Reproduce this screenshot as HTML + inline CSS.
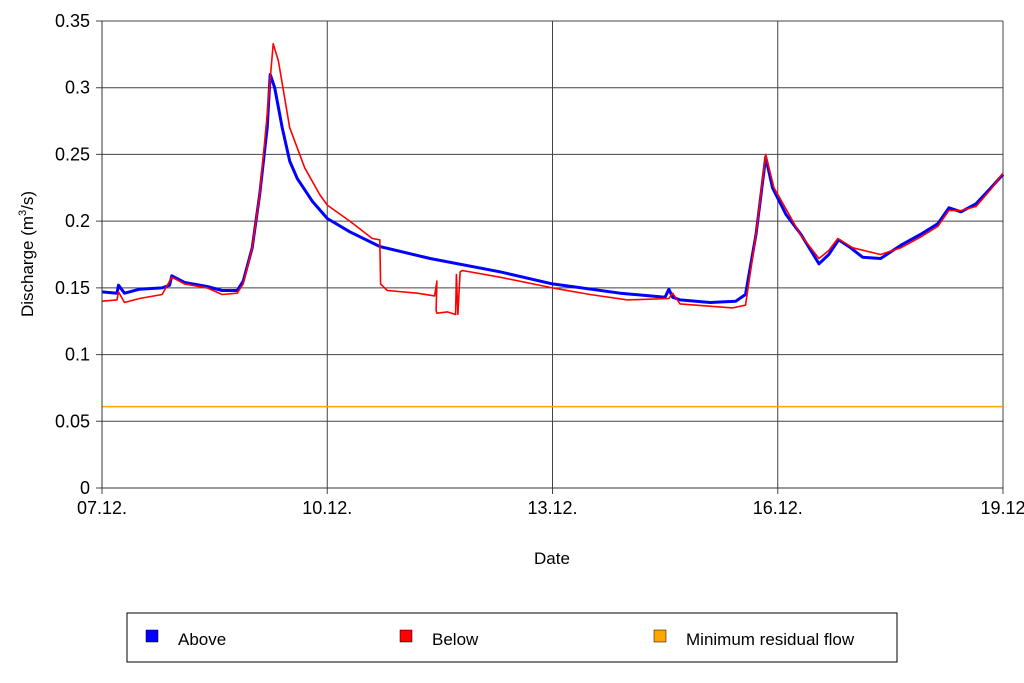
<!DOCTYPE html>
<html><head><meta charset="utf-8"><style>
body{margin:0;background:#fff;}
svg{display:block;font-family:"Liberation Sans",Arial,sans-serif;}
</style></head><body>
<svg id="chart" width="1024" height="683" viewBox="0 0 1024 683">
<g id="grid"></g>
<g id="series"></g>
<g id="axes"></g>
<text x="552" y="564" text-anchor="middle" font-size="17">Date</text>
<text transform="translate(33,254) rotate(-90)" text-anchor="middle" font-size="17">Discharge (m<tspan dy="-7" font-size="11">3</tspan><tspan dy="7">/s)</tspan></text>
<g>
<rect x="127" y="613" width="770" height="49" fill="#fff" stroke="#000" stroke-width="1"/>
<g><rect x="146" y="630" width="12" height="12" fill="#0000ff" stroke="#000" stroke-width="0.5"/><text x="178" y="645" font-size="17">Above</text></g>
<g><rect x="400" y="630" width="12" height="12" fill="#ff0000" stroke="#000" stroke-width="0.5"/><text x="432" y="645" font-size="17">Below</text></g>
<g><rect x="654" y="630" width="12" height="12" fill="#ffa500" stroke="#000" stroke-width="0.5"/><text x="686" y="645" font-size="17">Minimum residual flow</text></g>
</g>
</svg>
<script>
const xTickLabels=["07.12.","10.12.","13.12.","16.12.","19.12"];
const xTickDays=[0,3,6,9,12];
const yTicks=[0,0.05,0.1,0.15,0.2,0.25,0.3,0.35];
const yTickLabels=["0","0.05","0.1","0.15","0.2","0.25","0.3","0.35"];
const aboveDays=[0,0.2,0.22,0.3,0.5,0.8,0.9,0.93,1.1,1.4,1.6,1.8,1.88,2.0,2.1,2.2,2.24,2.3,2.4,2.5,2.6,2.8,3.0,3.3,3.7,4.37,5.3,6.0,6.9,7.5,7.55,7.6,7.7,8.1,8.44,8.57,8.71,8.84,8.93,9.11,9.31,9.55,9.68,9.81,9.97,10.13,10.37,10.64,10.9,11.13,11.28,11.44,11.64,11.84,12];
const aboveVals=[0.147,0.146,0.152,0.146,0.149,0.150,0.152,0.159,0.154,0.151,0.148,0.148,0.155,0.18,0.22,0.27,0.31,0.30,0.27,0.245,0.232,0.215,0.202,0.192,0.181,0.172,0.162,0.153,0.146,0.143,0.149,0.143,0.141,0.139,0.14,0.145,0.19,0.248,0.225,0.205,0.19,0.168,0.175,0.186,0.18,0.173,0.172,0.182,0.19,0.198,0.21,0.207,0.213,0.225,0.235];
const belowDays=[0,0.2,0.22,0.3,0.5,0.8,0.93,1.1,1.4,1.6,1.8,1.88,2.0,2.1,2.2,2.28,2.35,2.5,2.7,2.9,3.0,3.3,3.6,3.7,3.71,3.8,4.2,4.43,4.46,4.45,4.46,4.6,4.71,4.72,4.74,4.77,4.8,5.3,6.0,6.5,7.0,7.55,7.6,7.7,8.4,8.57,8.71,8.84,8.95,9.1,9.3,9.55,9.68,9.8,10.0,10.37,10.64,10.9,11.13,11.28,11.44,11.64,11.84,12];
const belowVals=[0.140,0.141,0.147,0.139,0.142,0.145,0.158,0.153,0.15,0.145,0.146,0.153,0.18,0.22,0.28,0.333,0.32,0.27,0.24,0.22,0.212,0.200,0.187,0.186,0.153,0.148,0.146,0.144,0.155,0.133,0.131,0.132,0.130,0.16,0.13,0.162,0.163,0.158,0.150,0.145,0.141,0.142,0.146,0.138,0.135,0.137,0.19,0.250,0.225,0.21,0.19,0.172,0.178,0.187,0.18,0.175,0.18,0.188,0.196,0.208,0.208,0.211,0.224,0.236];
const minFlow=0.061;
const X0=102,X1=1003,Y0=488,Y1=21,DMAX=12,VMAX=0.35;
const xs=d=>X0+d*(X1-X0)/DMAX;
const ys=v=>Y0-v*(Y0-Y1)/VMAX;
const NS="http://www.w3.org/2000/svg";
const grid=document.getElementById('grid'),ser=document.getElementById('series'),axes=document.getElementById('axes');
function mk(tag,attrs,parent){const e=document.createElementNS(NS,tag);for(const k in attrs)e.setAttribute(k,attrs[k]);parent.appendChild(e);return e;}
yTicks.forEach((v,i)=>{
 const l=mk('line',{x1:X0-6,x2:X1,y1:ys(v),y2:ys(v),stroke:'#444','stroke-width':1},grid);
 
 
 const t=mk('text',{x:X0-12,y:ys(v)+6,'text-anchor':'end','font-size':18},axes);
 t.textContent=yTickLabels[i];
 
 
});
xTickDays.forEach((d,i)=>{
 const l=mk('line',{x1:xs(d),x2:xs(d),y1:Y1,y2:Y0+6,stroke:'#444','stroke-width':1},grid);
 
 
 const t=mk('text',{x:xs(d),y:Y0+26,'text-anchor':'middle','font-size':18},axes);
 t.textContent=xTickLabels[i];
 
 
});
const mf=mk('line',{x1:X0,x2:X1,y1:ys(minFlow),y2:ys(minFlow),stroke:'#ffa500','stroke-width':1.5},ser);


function path(ds,vs){return ds.map((d,i)=>(i?'L':'M')+xs(d).toFixed(1)+','+ys(vs[i]).toFixed(1)).join('');}
const pa=mk('path',{d:path(aboveDays,aboveVals),fill:'none',stroke:'#0000ff','stroke-width':3,'stroke-linejoin':'round'},ser);


const pb=mk('path',{d:path(belowDays,belowVals),fill:'none',stroke:'#ff0000','stroke-width':1.6,'stroke-linejoin':'round'},ser);


const ax=mk('path',{d:`M${X0},${Y1}L${X0},${Y0}L${X1},${Y0}`,fill:'none',stroke:'#333','stroke-width':1},axes);


</script>
</body></html>
